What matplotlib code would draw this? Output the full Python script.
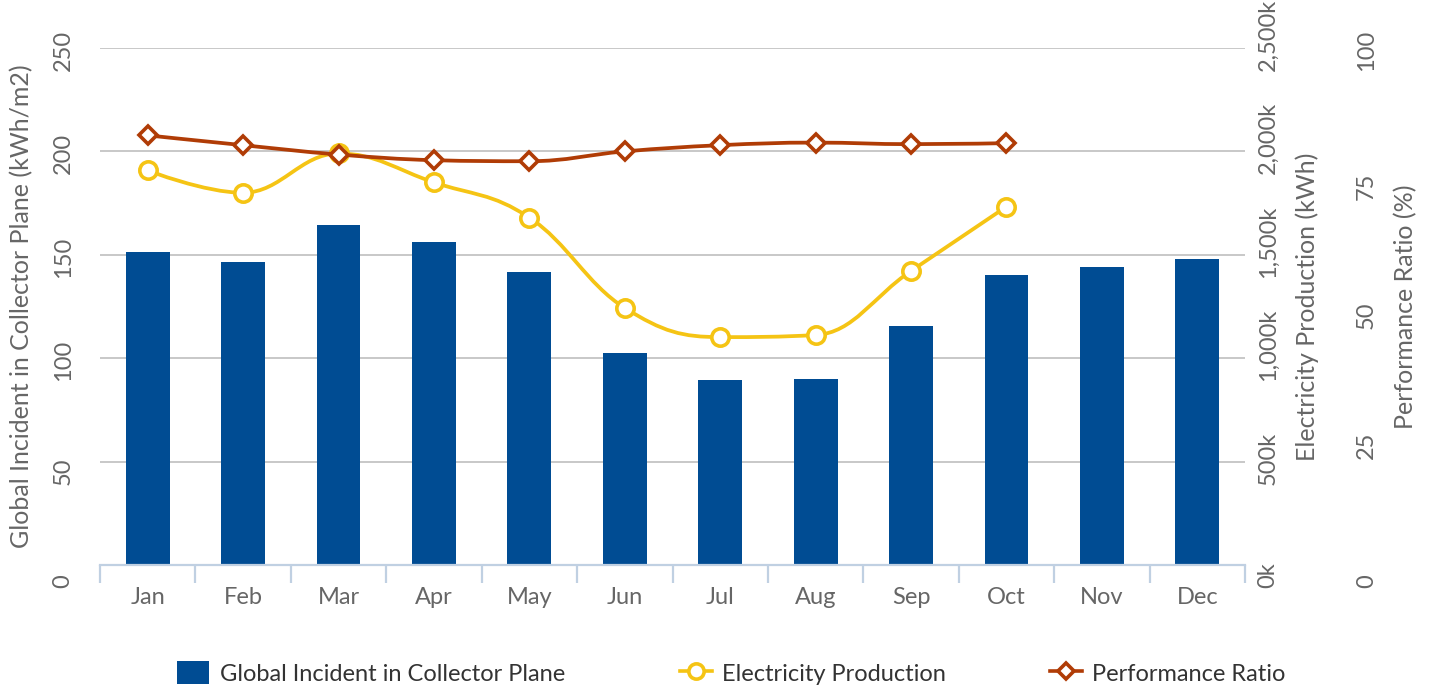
import matplotlib
matplotlib.use("Agg")
import matplotlib.pyplot as plt
from matplotlib.path import Path
from matplotlib.patches import PathPatch, Patch
from matplotlib.lines import Line2D
from matplotlib.transforms import ScaledTranslation
from matplotlib.ticker import FuncFormatter, FixedLocator
import numpy as np

plt.rcParams['font.family'] = ['Lato', 'DejaVu Sans']

months = ["Jan", "Feb", "Mar", "Apr", "May", "Jun", "Jul", "Aug", "Sep", "Oct", "Nov", "Dec"]
global_incident = [151.5, 146.5, 164.6, 156.3, 141.7, 102.4, 89.3, 89.8, 115.5, 140.3, 144.2, 148.0]
electricity = [1908000, 1800000, 1990000, 1850000, 1680000, 1243000, 1102000, 1112000, 1422000, 1733000]
performance = [83.1, 81.2, 79.4, 78.3, 78.1, 80.0, 81.2, 81.7, 81.4, 81.6]

left_ticks = [0, 50, 100, 150, 200, 250]
elec_ticks = [0, 500000, 1000000, 1500000, 2000000, 2500000]
pr_ticks = [0, 25, 50, 75, 100]

BAR = "#004C93"
YEL = "#F5C414"
ORG = "#B03C06"
GRID = "#C8C8C8"
AXIS = "#C0D0E2"
TICKC = "#666666"

W, H = 1432, 689
fig = plt.figure(figsize=(W / 100, H / 100), dpi=100)
L, R, T, B = 100, 1245, 48, 565
ax = fig.add_axes([L / W, 1 - B / H, (R - L) / W, (B - T) / H])
ax2 = ax.twinx()
ax3 = ax.twinx()

x = np.arange(len(months))
ax.bar(x, global_incident, width=0.46, color=BAR, zorder=2)
ax.set_xlim(-0.5, len(months) - 0.5)
ax.set_ylim(0, 250)
ax2.set_ylim(0, 2500000)
ax3.set_ylim(0, 100)


def spline_path(xs, ys, smoothing=1.5):
    n = len(xs)
    denom = smoothing + 1
    lc = [(xs[i], ys[i]) for i in range(n)]
    rc = [(xs[i], ys[i]) for i in range(n)]
    for i in range(1, n - 1):
        lastX, lastY = xs[i - 1], ys[i - 1]
        nextX, nextY = xs[i + 1], ys[i + 1]
        px, py = xs[i], ys[i]
        lcx = (smoothing * px + lastX) / denom
        lcy = (smoothing * py + lastY) / denom
        rcx = (smoothing * px + nextX) / denom
        rcy = (smoothing * py + nextY) / denom
        if rcx != lcx:
            corr = ((rcy - lcy) * (rcx - px)) / (rcx - lcx) + py - rcy
            lcy += corr
            rcy += corr
        if lcy > lastY and lcy > py:
            lcy = max(lastY, py); rcy = 2 * py - lcy
        elif lcy < lastY and lcy < py:
            lcy = min(lastY, py); rcy = 2 * py - lcy
        if rcy > nextY and rcy > py:
            rcy = max(nextY, py); lcy = 2 * py - rcy
        elif rcy < nextY and rcy < py:
            rcy = min(nextY, py); lcy = 2 * py - rcy
        lc[i] = (lcx, lcy)
        rc[i] = (rcx, rcy)
    verts = [(xs[0], ys[0])]
    codes = [Path.MOVETO]
    for i in range(1, n):
        verts += [rc[i - 1], lc[i], (xs[i], ys[i])]
        codes += [Path.CURVE4] * 3
    return Path(verts, codes)


xe = np.arange(len(electricity))
ax2.add_patch(PathPatch(spline_path(list(xe), electricity), fill=False, edgecolor=YEL,
                        lw=2.7, zorder=3, capstyle='round', joinstyle='round'))
ax2.plot(xe, electricity, linestyle='none', marker='o', markersize=12.5,
         markerfacecolor='white', markeredgecolor=YEL, markeredgewidth=2.6, zorder=4)

xp = np.arange(len(performance))
ax3.add_patch(PathPatch(spline_path(list(xp), performance), fill=False, edgecolor=ORG,
                        lw=2.7, zorder=3, capstyle='round', joinstyle='round'))
ax3.plot(xp, performance, linestyle='none', marker='D', markersize=9.5,
         markerfacecolor='white', markeredgecolor=ORG, markeredgewidth=2.6, zorder=4)

# grid and spines
ax.set_yticks(left_ticks)
ax.yaxis.grid(True, color=GRID, lw=1.4, zorder=0)
ax.set_axisbelow(True)
for a in (ax, ax2, ax3):
    for s in a.spines.values():
        s.set_visible(False)
ax.spines['bottom'].set_visible(True)
ax.spines['bottom'].set_color(AXIS)
ax.spines['bottom'].set_linewidth(1.6)
ax.spines['bottom'].set_zorder(5)

FS = 17
ax.set_xticks(x)
ax.set_xticklabels(months)
ax.xaxis.set_minor_locator(FixedLocator(np.arange(-0.5, len(months), 1.0)))
ax.tick_params(axis='x', which='major', length=0, pad=16, labelsize=FS, labelcolor=TICKC)
ax.tick_params(axis='x', which='minor', length=13, width=1.6, color=AXIS, direction='out')

ax2.set_yticks(elec_ticks)
ax2.yaxis.set_major_formatter(FuncFormatter(lambda v, p: "{:,}k".format(int(round(v / 1000)))))
ax3.set_yticks(pr_ticks)

ax.tick_params(axis='y', length=0, pad=26.5, labelsize=FS, labelcolor=TICKC)
ax2.tick_params(axis='y', length=0, pad=16.5, labelsize=FS, labelcolor=TICKC)
ax3.tick_params(axis='y', length=0, pad=87.5, labelsize=FS, labelcolor=TICKC)

off = ScaledTranslation(0, -23 / 100, fig.dpi_scale_trans)
for a in (ax, ax2, ax3):
    for lbl in a.get_yticklabels():
        lbl.set_rotation(90)
        lbl.set_rotation_mode('anchor')
        lbl.set_ha('left')
        lbl.set_va('center')
        lbl.set_transform(lbl.get_transform() + off)

ycen = 1 - ((T + B) / 2) / H
fig.text(22 / W, ycen, "Global Incident in Collector Plane (kWh/m2)", rotation=90,
         ha='center', va='center', fontsize=18, color=TICKC)
fig.text(1307 / W, ycen, "Electricity Production (kWh)", rotation=90,
         ha='center', va='center', fontsize=18, color=TICKC)
fig.text(1406 / W, ycen, "Performance Ratio (%)", rotation=90,
         ha='center', va='center', fontsize=18, color=TICKC)

handles = [
    Patch(facecolor=BAR, edgecolor='none'),
    Line2D([], [], color=YEL, lw=2.6, marker='o', markersize=11,
           markerfacecolor='white', markeredgecolor=YEL, markeredgewidth=2.6),
    Line2D([], [], color=ORG, lw=2.6, marker='D', markersize=8.5,
           markerfacecolor='white', markeredgecolor=ORG, markeredgewidth=2.6),
]
labels = ["Global Incident in Collector Plane", "Electricity Production", "Performance Ratio"]
starts = [177, 680, 1050]
for h, lab, sx in zip(handles, labels, starts):
    fig.legend([h], [lab], loc='center left', bbox_to_anchor=(sx / W, 1 - 673 / H),
               frameon=False, fontsize=FS, handlelength=1.35, handleheight=1.1,
               handletextpad=0.45, borderpad=0, borderaxespad=0, labelcolor='#333333')

fig.savefig("out.png", dpi=100)
